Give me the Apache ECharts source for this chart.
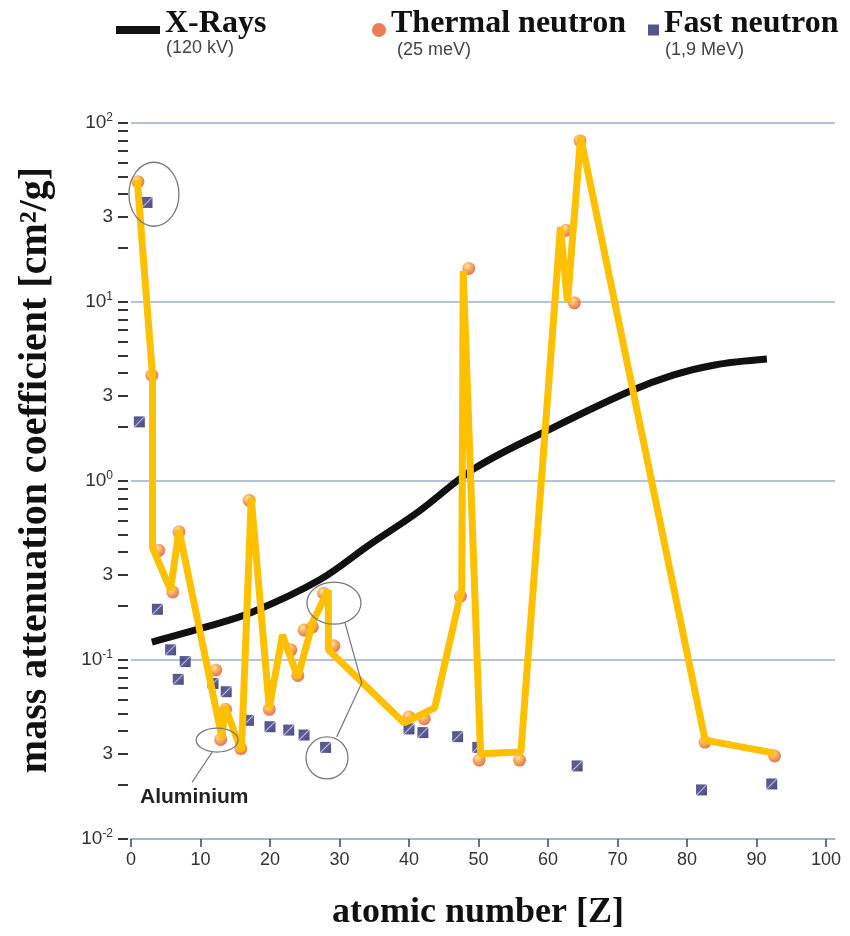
<!DOCTYPE html>
<html>
<head>
<meta charset="utf-8">
<title>mass attenuation coefficient</title>
<script src="https://cdn.jsdelivr.net/npm/echarts/dist/echarts.min.js"></script>
<style>
  html, body { margin: 0; padding: 0; background: #fff; }
  #chart { width: 850px; height: 936px; }
</style>
</head>
<body>
<div id="chart"></div>
<script>
// X-Rays (120 kV), smooth curve
const xrayZ = [3, 10.8, 17.4, 27.1, 34.3, 41.5, 49.5, 60.9, 71.6, 78, 84, 91.5];
const xrayMu = [0.126, 0.153, 0.185, 0.28, 0.44, 0.68, 1.18, 2.0, 3.15, 3.9, 4.45, 4.8];

// thermal neutrons (25 meV)
const thermalZ = [1.0, 3.0, 4.0, 6.0, 6.9, 12.2, 12.9, 13.6, 15.8, 17.0, 19.9, 23.0, 24.0, 24.9, 26.1, 27.7, 29.2,
  40.0, 42.2, 47.4, 48.6, 50.1, 55.9, 62.6, 63.8, 64.6, 82.6, 92.6];
const thermalMu = [47, 3.9, 0.41, 0.24, 0.52, 0.088, 0.036, 0.053, 0.032, 0.78, 0.053, 0.114, 0.082, 0.147, 0.153, 0.236, 0.12,
  0.048, 0.047, 0.227, 15.4, 0.0276, 0.0276, 25.2, 9.9, 79.6, 0.0348, 0.0291];

// fast neutrons (1,9 MeV)
const fastZ = [1.2, 2.3, 3.8, 5.7, 6.8, 7.8, 11.8, 13.7, 16.9, 20.0, 22.7, 24.9, 28.0, 40.0, 42.0, 47.0, 49.9, 64.2, 82.1, 92.2];
const fastMu = [2.14, 36, 0.192, 0.114, 0.078, 0.098, 0.074, 0.0665, 0.046, 0.0424, 0.0406, 0.0381, 0.0325,
  0.0412, 0.0393, 0.0373, 0.0325, 0.0256, 0.0188, 0.0203];

// hand drawn yellow trace over the thermal points
const traceZ = [0.9, 3.1, 3.1, 5.7, 6.9, 13.1, 13.5, 15.9, 17.3, 19.9, 21.8, 24.0, 26.2, 28.4, 28.4, 39.3, 43.7,
  47.6, 47.8, 50.3, 56.1, 61.8, 62.8, 64.7, 82.6, 92.6];
const traceMu = [48, 3.86, 0.423, 0.246, 0.532, 0.0366, 0.0553, 0.031, 0.803, 0.054, 0.138, 0.080, 0.165, 0.246, 0.114,
  0.0445, 0.054, 0.249, 14.9, 0.0299, 0.0306, 26.2, 10, 83.6, 0.0357, 0.0302];

// axis ticks
const xTickVals = [0, 10, 20, 30, 40, 50, 60, 70, 80, 90, 100];
const yLabelVals = [0.01, 0.03, 0.1, 0.3, 1, 3, 10, 30, 100];
const yTickVals = [0.01, 0.02, 0.03, 0.04, 0.05, 0.06, 0.07, 0.08, 0.09,
  0.1, 0.2, 0.3, 0.4, 0.5, 0.6, 0.7, 0.8, 0.9,
  1, 2, 3, 4, 5, 6, 7, 8, 9,
  10, 20, 30, 40, 50, 60, 70, 80, 90, 100];

const pair = (xs, ys) => xs.map((x, i) => [x, ys[i]]);

const serif = '"Liberation Serif", "Times New Roman", serif';
const sans = '"Liberation Sans", Arial, sans-serif';
const gridColor = '#9ab1cb';

const chart = echarts.init(document.getElementById('chart'));

// legend label sits higher than its icon, like in the original
const legendText = {
    color: '#111',
    rich: {
        t: { fontFamily: serif, fontWeight: 'bold', fontSize: 32, color: '#111', padding: [0, 0, 12, 0] }
    }
};
const legendFmt = name => '{t|' + name + '}';

const option = {
    backgroundColor: '#fff',
    animation: false,
    grid: { left: 131, right: 15, top: 123, bottom: 97, containLabel: false, outerBoundsMode: 'none' },
    legend: [
        {
            data: [{ name: 'X-Rays', icon: 'rect' }],
            left: 116, top: 8, itemWidth: 44, itemHeight: 8, padding: 0,
            selectedMode: false, formatter: legendFmt, textStyle: legendText
        },
        {
            data: [{ name: 'Thermal neutron', icon: 'circle', itemStyle: { color: '#e85a2c' } }],
            left: 372, top: 8, itemWidth: 14, itemHeight: 14, padding: 0,
            selectedMode: false, formatter: legendFmt, textStyle: legendText
        },
        {
            data: [{ name: 'Fast neutron', icon: 'rect', itemStyle: { color: '#2b2b72' } }],
            left: 648, top: 8, itemWidth: 11, itemHeight: 11, padding: 0,
            selectedMode: false, formatter: legendFmt, textStyle: legendText
        }
    ],
    xAxis: {
        type: 'value',
        min: 0,
        max: 101.3,
        axisLine: { show: true, onZero: false, lineStyle: { color: gridColor, width: 1.5 } },
        axisTick: { show: true, customValues: xTickVals, length: 8, lineStyle: { color: '#444', width: 1.5 } },
        axisLabel: { customValues: xTickVals, margin: 12, color: '#333', fontSize: 18, fontFamily: sans },
        splitLine: { show: false },
        name: 'atomic number [Z]',
        nameLocation: 'middle',
        nameGap: 56,
        nameTextStyle: { fontFamily: serif, fontWeight: 'bold', fontSize: 36, color: '#111', padding: [0, 10, 0, 0] }
    },
    yAxis: [
        {
            type: 'log',
            logBase: 10,
            min: 0.01,
            max: 100,
            position: 'left',
            offset: 3,
            axisLine: { show: false },
            axisTick: { show: false },
            axisLabel: {
                customValues: yLabelVals,
                margin: 15,
                formatter: function (v) {
                    const e = Math.round(Math.log10(v));
                    if (Math.abs(v - Math.pow(10, e)) < 1e-9) {
                        return '{b|10}{s|' + e + '}';
                    }
                    return '{b|3}';
                },
                rich: {
                    b: { fontSize: 19, fontFamily: sans, color: '#333', lineHeight: 22 },
                    s: { fontSize: 12, fontFamily: sans, color: '#333', verticalAlign: 'top', lineHeight: 12 }
                }
            },
            splitLine: { show: true, lineStyle: { color: gridColor, width: 1.5 } },
            name: 'mass attenuation coefficient [cm²/g]',
            nameLocation: 'middle',
            nameRotate: 90,
            nameGap: 72,
            nameTextStyle: { fontFamily: serif, fontWeight: 'bold', fontSize: 40, color: '#111', padding: [0, 0, 0, 22] }
        },
        {
            // minor log ticks only
            type: 'log',
            logBase: 10,
            min: 0.01,
            max: 100,
            position: 'left',
            offset: 3,
            axisLine: { show: false },
            axisTick: { show: true, customValues: yTickVals, length: 10, lineStyle: { color: '#333', width: 2 } },
            axisLabel: { show: false },
            splitLine: { show: false }
        }
    ],
    series: [
        {
            name: 'X-Rays',
            type: 'line',
            data: pair(xrayZ, xrayMu),
            smooth: 0.35,
            symbol: 'none',
            lineStyle: { color: '#111', width: 7, cap: 'butt' },
            itemStyle: { color: '#111' },
            z: 2
        },
        {
            name: 'Thermal neutron',
            type: 'scatter',
            data: pair(thermalZ, thermalMu),
            symbol: 'circle',
            symbolSize: 13,
            itemStyle: {
                color: new echarts.graphic.RadialGradient(0.38, 0.32, 0.7, [
                    { offset: 0, color: '#ffe08a' },
                    { offset: 0.45, color: '#f59a3c' },
                    { offset: 1, color: '#de4f26' }
                ])
            },
            z: 3
        },
        {
            name: 'Fast neutron',
            type: 'scatter',
            data: pair(fastZ, fastMu),
            symbol: 'rect',
            symbolSize: 11,
            itemStyle: {
                color: new echarts.graphic.LinearGradient(0, 0, 1, 1, [
                    { offset: 0, color: '#2a2a66' },
                    { offset: 0.44, color: '#34347c' },
                    { offset: 0.5, color: '#b4b4dc' },
                    { offset: 0.56, color: '#34347c' },
                    { offset: 1, color: '#1c1c52' }
                ])
            },
            z: 3
        },
        {
            name: 'trend',
            type: 'line',
            data: pair(traceZ, traceMu),
            symbol: 'none',
            lineStyle: { color: '#ffc000', width: 7, join: 'bevel' },
            itemStyle: { color: '#ffc000' },
            z: 4
        }
    ]
};

chart.setOption(option);

// annotations: legend sub labels, circles and the Aluminium note
const px = (z, v) => chart.convertToPixel({ seriesIndex: 0 }, [z, v]);
const ring = { fill: 'none', stroke: '#7a7a7a', lineWidth: 1.3 };
const subText = { fontFamily: sans, fontSize: 18, fill: '#444' };

const hC = px(3.3, 40);
const alC = px(12.4, 0.0357);
const alA = px(11.7, 0.0307);
const alB = px(8.8, 0.0208);
const alT = px(1.3, 0.0172);
const niC = px(29.2, 0.208);
const cuC = px(28.2, 0.0284);

chart.setOption({
    graphic: [
        { type: 'text', left: 166, top: 39, style: Object.assign({ text: '(120 kV)' }, subText) },
        { type: 'text', left: 397, top: 41, style: Object.assign({ text: '(25 meV)' }, subText) },
        { type: 'text', left: 665, top: 41, style: Object.assign({ text: '(1,9 MeV)' }, subText) },
        { type: 'ellipse', shape: { cx: hC[0], cy: hC[1], rx: 25, ry: 32 }, style: ring, z: 10 },
        { type: 'ellipse', shape: { cx: alC[0], cy: alC[1], rx: 21, ry: 12 }, style: ring, z: 10 },
        { type: 'line', shape: { x1: alA[0], y1: alA[1], x2: alB[0], y2: alB[1] }, style: { stroke: '#7a7a7a', lineWidth: 1.2 }, z: 10 },
        {
            type: 'text', x: alT[0], y: alT[1],
            style: { text: 'Aluminium', fontFamily: sans, fontWeight: 'bold', fontSize: 21, fill: '#222', verticalAlign: 'middle' },
            z: 10
        },
        { type: 'ellipse', shape: { cx: niC[0], cy: niC[1], rx: 27, ry: 21 }, style: ring, z: 10 },
        {
            type: 'polyline',
            shape: { points: [px(30.8, 0.161), px(33.2, 0.0744), px(29.6, 0.0372)] },
            style: { stroke: '#7a7a7a', lineWidth: 1.2, fill: 'none' },
            z: 10
        },
        { type: 'circle', shape: { cx: cuC[0], cy: cuC[1], r: 21 }, style: ring, z: 10 }
    ]
});
</script>
</body>
</html>
